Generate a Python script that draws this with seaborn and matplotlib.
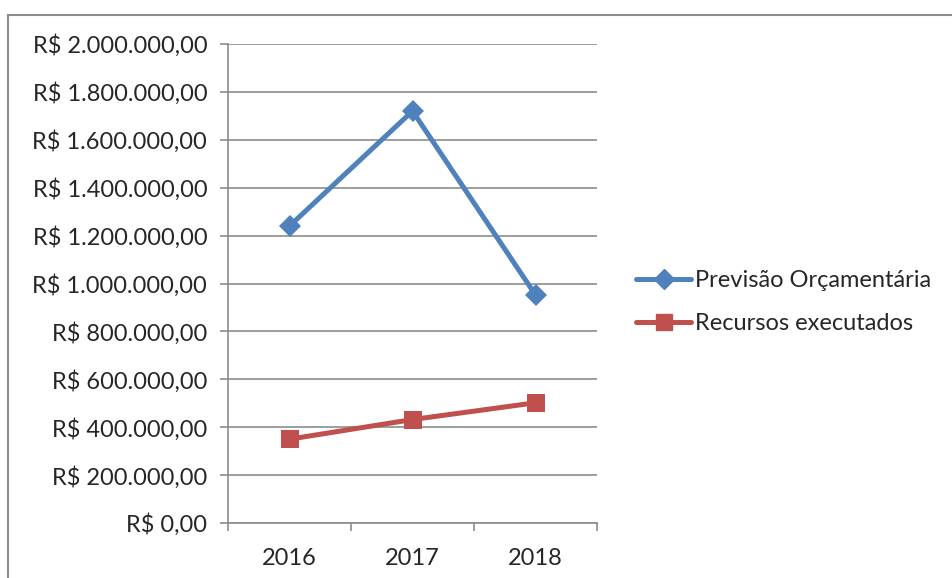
import pandas as pd
import seaborn as sns
import matplotlib.pyplot as plt
from matplotlib.ticker import FuncFormatter, FixedLocator
from matplotlib.lines import Line2D
from matplotlib.patches import Rectangle

# Values
anos = ['2016', '2017', '2018']
previsao = [1240000, 1720000, 952000]
executados = [350000, 432000, 502000]
series = ['Previsão Orçamentária', 'Recursos executados']

df = pd.DataFrame({
    'ano': anos * 2,
    'valor': previsao + executados,
    'serie': [series[0]] * 3 + [series[1]] * 3,
})

sns.set_style('white')
plt.rcParams['font.family'] = ['Lato', 'DejaVu Sans']

fig = plt.figure(figsize=(9.53, 5.78), dpi=100)
ax = fig.add_axes([228 / 953, 1 - 523 / 578, (597 - 228) / 953, (523 - 44) / 578])

# outer chart frame (clipped at right/bottom like the screenshot)
fig.patches.append(Rectangle((8 / 953, -0.1), 1.2, 1 - 15 / 578 + 0.1,
                             transform=fig.transFigure, fill=False,
                             edgecolor='#8c8c8c', linewidth=1.5))

palette = {series[0]: '#4F81BD', series[1]: '#C0504D'}
sns.lineplot(data=df, x='ano', y='valor', hue='serie', style='serie',
             markers={series[0]: 'D', series[1]: 's'}, dashes=False,
             palette=palette, linewidth=3.6, markersize=11,
             markeredgewidth=0, ax=ax, legend=False, sort=False)
for ln in ax.lines:
    if ln.get_marker() == 's':
        ln.set_markersize(12.5)

ax.set_ylim(0, 2000000)
ax.set_xlim(-0.5, 2.5)
ax.set_yticks(range(0, 2000001, 200000))
ax.yaxis.set_major_formatter(FuncFormatter(
    lambda v, p: 'R$ ' + f'{v:,.2f}'.replace(',', 'X').replace('.', ',').replace('X', '.')))
ax.set_xticks([0, 1, 2])
ax.set_xticklabels(anos)
ax.xaxis.set_minor_locator(FixedLocator([-0.5, 0.5, 1.5, 2.5]))
ax.tick_params(axis='x', which='major', bottom=True, length=0, pad=18, labelsize=17)
ax.tick_params(axis='x', which='minor', bottom=True, length=6, width=1.2,
               color='#8c8c8c', direction='out')
ax.tick_params(axis='y', left=True, length=6, width=1.2, color='#8c8c8c',
               direction='out', pad=9, labelsize=17)
ax.set_xlabel('')
ax.set_ylabel('')

ax.grid(axis='y', color='#8c8c8c', linewidth=1.2)
ax.set_axisbelow(True)
for s in ['top', 'right']:
    ax.spines[s].set_visible(False)
for s in ['left', 'bottom']:
    ax.spines[s].set_color('#8c8c8c')
    ax.spines[s].set_linewidth(1.2)

handles = [Line2D([], [], color=palette[series[0]], marker='D', markersize=10, linewidth=3.6),
           Line2D([], [], color=palette[series[1]], marker='s', markersize=12, linewidth=3.6)]
fig.legend(handles, series, loc='center left', bbox_to_anchor=(636 / 953, 1 - 302 / 578),
           frameon=False, fontsize=17, handlelength=2.35, handletextpad=0.15,
           labelspacing=0.95, borderaxespad=0, borderpad=0)

fig.savefig('out.png', dpi=100)
